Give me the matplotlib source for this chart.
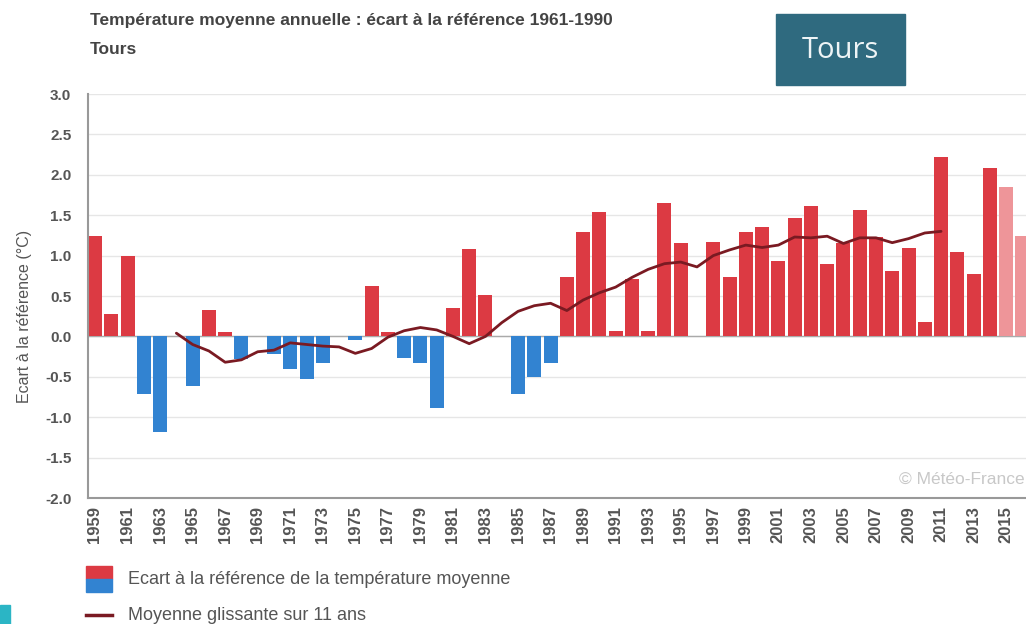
import numpy as np
import matplotlib
matplotlib.use("Agg")
import matplotlib.pyplot as plt
from matplotlib.patches import Rectangle
from matplotlib.lines import Line2D
from matplotlib import font_manager as fm

# ---------------- data ----------------
years = list(range(1959, 2017))
anomalies = [1.24, 0.28, 0.99, -0.71, -1.18, 0.0, -0.62, 0.33, 0.06, -0.28,
             0.0, -0.22, -0.40, -0.53, -0.33, 0.0, -0.05, 0.62, 0.05, -0.27,
             -0.33, -0.88, 0.35, 1.08, 0.51, 0.0, -0.71, -0.50, -0.33, 0.74,
             1.29, 1.54, 0.07, 0.71, 0.07, 1.65, 1.15, 0.0, 1.17, 0.74,
             1.29, 1.35, 0.93, 1.46, 1.62, 0.90, 1.16, 1.56, 1.23, 0.81,
             1.10, 0.18, 2.22, 1.04, 0.77, 2.08, 1.85, 1.24]
provisional_years = [2015, 2016]

ma_years = list(range(1964, 2012))
ma_values = [0.04, -0.10, -0.18, -0.32, -0.29, -0.19, -0.17, -0.08, -0.10, -0.12,
             -0.13, -0.21, -0.15, -0.01, 0.07, 0.11, 0.08, 0.00, -0.09, 0.00,
             0.17, 0.31, 0.38, 0.41, 0.32, 0.45, 0.54, 0.61, 0.73, 0.83,
             0.90, 0.92, 0.86, 1.00, 1.07, 1.13, 1.10, 1.13, 1.23, 1.22,
             1.24, 1.15, 1.22, 1.22, 1.16, 1.21, 1.28, 1.30]

yticks = [3.0, 2.5, 2.0, 1.5, 1.0, 0.5, 0.0, -0.5, -1.0, -1.5, -2.0]
xtick_years = list(range(1959, 2017, 2))

title = "Température moyenne annuelle : écart à la référence 1961-1990"
subtitle = "Tours"
ylabel = "Ecart à la référence (°C)"
legend_bar = "Ecart à la référence de la température moyenne"
legend_line = "Moyenne glissante sur 11 ans"

# ---------------- style ----------------
names = {f.name for f in fm.fontManager.ttflist}
narrow = "Liberation Sans Narrow" if "Liberation Sans Narrow" in names else "Liberation Sans"
RED = "#dc3a43"
BLUE = "#3283d1"
LIGHT = "#ee9599"
MA = "#7a1a22"
TXT = "#555555"

fig = plt.figure(figsize=(10.26, 6.24), dpi=100)
ax = fig.add_axes([88 / 1026, 1 - 498 / 624, 1 - 88 / 1026, (498 - 94) / 624])

colors = []
for y, v in zip(years, anomalies):
    if y in provisional_years:
        colors.append(LIGHT)
    elif v >= 0:
        colors.append(RED)
    else:
        colors.append(BLUE)

ax.bar(years, anomalies, width=0.86, color=colors, zorder=2)
ax.plot(ma_years, ma_values, color=MA, lw=2.0, zorder=3,
        solid_capstyle="round", solid_joinstyle="round")

ax.set_xlim(1958.57, 2016.22)
ax.set_ylim(-2.0, 3.0)
ax.set_yticks(yticks)
ax.set_yticklabels([f"{t:.1f}" for t in yticks], fontsize=11,
                   fontweight="bold", color=TXT, family="Liberation Sans")
ax.set_xticks(xtick_years)
ax.set_xticklabels([str(y) for y in xtick_years], rotation=90, fontsize=12,
                   fontweight="bold", color=TXT, family="Liberation Sans")
ax.tick_params(axis="x", length=0, pad=6)
ax.tick_params(axis="y", length=0, pad=12)

for t in yticks:
    ax.axhline(t, color="#e6e6e6", lw=1.0, zorder=0)
ax.axhline(0, color="#aaaaaa", lw=1.0, zorder=1)

for s in ["top", "right"]:
    ax.spines[s].set_visible(False)
ax.spines["left"].set_color("#999999")
ax.spines["left"].set_linewidth(1.5)
ax.spines["bottom"].set_color("#999999")
ax.spines["bottom"].set_linewidth(1.5)

ax.set_ylabel(ylabel, fontsize=11.5, color=TXT, family="Liberation Sans")
ax.yaxis.set_label_coords(-0.06, 0.45)

ax.text(0.999, 0.045, "© Météo-France", transform=ax.transAxes, ha="right",
        va="center", fontsize=12.5, color="#c8c8c8", family=narrow)

# titles
fig.text(90 / 1026, 1 - 20 / 624, title, fontsize=12.5, fontweight="bold",
         color="#444444", family=narrow, va="center", ha="left")
fig.text(90 / 1026, 1 - 50 / 624, subtitle, fontsize=12.5, fontweight="bold",
         color="#444444", family=narrow, va="center", ha="left")

# Tours box
fig.patches.append(Rectangle((776 / 1026, 1 - 85 / 624), 129 / 1026, 71 / 624,
                             transform=fig.transFigure, color="#2f6a7f", zorder=5))
fig.text(840 / 1026, 1 - 50 / 624, "Tours", fontsize=21, color="#eef4f6",
         family="Open Sans", ha="center", va="center", zorder=6)

# legend
fig.patches.append(Rectangle((86 / 1026, 1 - 579 / 624), 26 / 1026, 13 / 624,
                             transform=fig.transFigure, color=RED))
fig.patches.append(Rectangle((86 / 1026, 1 - 592 / 624), 26 / 1026, 13 / 624,
                             transform=fig.transFigure, color=BLUE))
fig.text(128 / 1026, 1 - 580 / 624, legend_bar, fontsize=13, color="#555555",
         family=narrow, va="center", ha="left")
fig.lines.append(Line2D([86 / 1026, 112 / 1026], [1 - 615 / 624, 1 - 615 / 624],
                        transform=fig.transFigure, color=MA, lw=2.5))
fig.text(128 / 1026, 1 - 616 / 624, legend_line, fontsize=13, color="#555555",
         family=narrow, va="center", ha="left")

# small teal mark at bottom-left
fig.patches.append(Rectangle((0, 0), 10 / 1026, 19 / 624,
                             transform=fig.transFigure, color="#2bb5c5"))

fig.savefig("out.png", dpi=100)
